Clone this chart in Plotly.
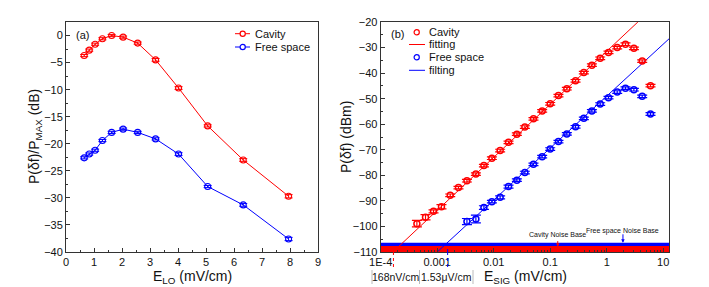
import math
import plotly.graph_objects as go

W, H = 709, 287
FONT = "Liberation Sans, Arial, sans-serif"
RED = "#ff0000"
BLUE = "#0000ff"
AX = "#333333"


def px(x):
    return x / W


def py(y):
    return 1 - y / H


# ---------------- Panel (a) data ----------------
e_lo = [0.65, 0.83, 1.04, 1.30, 1.63, 2.04, 2.56, 3.20, 4.02, 5.06, 6.33, 7.95]
cavity_rel = [-3.7, -2.7, -1.6, -0.6, 0.0, -0.3, -1.4, -4.5, -9.7, -16.7, -23.0, -29.7]
cavity_rel_err = [0.2, 0.2, 0.2, 0.2, 0.2, 0.2, 0.2, 0.25, 0.25, 0.2, 0.25, 0.3]
free_rel = [-22.6, -21.9, -21.2, -19.4, -17.9, -17.3, -17.9, -19.1, -21.9, -27.9, -31.3, -37.6]
free_rel_err = [0.2, 0.2, 0.2, 0.2, 0.2, 0.2, 0.2, 0.2, 0.25, 0.2, 0.25, 0.3]

# ---------------- Panel (b) data ----------------
e_sig_cavity = [4.37e-4, 6.21e-4, 8.61e-4, 1.19e-3, 1.70e-3, 2.38e-3, 3.36e-3, 4.84e-3,
                6.71e-3, 9.29e-3, 0.0130, 0.0183, 0.0257, 0.0356, 0.0506, 0.0721, 0.100,
                0.140, 0.197, 0.281, 0.394, 0.547, 0.767, 1.076, 1.535, 2.15, 3.03, 4.25, 5.96]
p_cavity = [-98.9, -96.4, -94.1, -92.3, -87.8, -84.8, -82.1, -79.5, -76.2, -73.3, -70.3,
            -67.1, -63.9, -61.1, -57.9, -54.8, -52.0, -48.8, -46.1, -43.0, -39.8, -36.9,
            -34.2, -31.9, -30.0, -28.7, -30.3, -35.3, -44.9]
p_cavity_err = [1.25, 1.0, 0.6, 0.8, 0.5, 0.5, 0.5, 0.5, 0.5, 0.5, 0.5, 0.5, 0.5, 0.5, 0.5,
                0.5, 0.5, 0.5, 0.5, 0.5, 0.5, 0.5, 0.5, 0.5, 0.5, 0.5, 0.5, 0.5, 0.5]
e_sig_free = [3.36e-3, 4.84e-3, 6.71e-3, 9.29e-3, 0.0130, 0.0183, 0.0257, 0.0356, 0.0506,
              0.0721, 0.100, 0.140, 0.197, 0.281, 0.394, 0.547, 0.767, 1.076, 1.535, 2.15,
              3.03, 4.25, 5.96]
p_free = [-98.1, -97.1, -92.6, -90.3, -88.6, -84.4, -81.9, -78.9, -75.7, -72.7, -69.7, -66.8,
          -63.8, -61.0, -57.7, -54.8, -52.1, -49.6, -47.4, -45.9, -46.5, -49.1, -56.0]
p_free_err = [1.2, 1.5, 0.7, 0.5, 0.6, 0.6, 0.5, 0.5, 0.5, 0.5, 0.5, 0.5, 0.5, 0.5, 0.5, 0.5,
              0.5, 0.5, 0.5, 0.5, 0.5, 0.5, 0.5]

fit_cavity_x = [1.64e-4, 3.56]
fit_cavity_y = [-110, -20]
fit_free_x = [1.0e-3, 12.8]
fit_free_y = [-110, -26.5]

noise_x = [1.0e-4, 13.0]
noise_floor = -110.0
noise_cavity = -107.7
noise_free = -106.4

mdf_cavity = 1.68e-4   # 168 nV/cm
mdf_free = 1.53e-3     # 1.53 uV/cm
arrow_cavity_x = 0.136
arrow_free_x = 1.94

xticks_b = [1e-4, 1e-3, 1e-2, 1e-1, 1, 10]
xticktext_b = ["1E-4", "0.001", "0.01", "0.1", "1", "10"]

fig = go.Figure()

# ---- panel (a) traces ----
for y, err, col in [(cavity_rel, cavity_rel_err, RED), (free_rel, free_rel_err, BLUE)]:
    fig.add_trace(go.Scatter(
        x=e_lo, y=y, mode="lines+markers", xaxis="x", yaxis="y",
        line=dict(color=col, width=1),
        marker=dict(symbol="circle-open", size=6, color=col, line=dict(width=1.1)),
        error_y=dict(type="data", array=err, color=col, thickness=1, width=4),
        showlegend=False,
    ))

# ---- panel (b) noise bands ----
fig.add_trace(go.Scatter(x=noise_x, y=[noise_floor] * 2, mode="lines", xaxis="x2", yaxis="y2",
                         line=dict(width=0, color=RED), showlegend=False, hoverinfo="skip"))
fig.add_trace(go.Scatter(x=noise_x, y=[noise_cavity] * 2, mode="lines", xaxis="x2", yaxis="y2",
                         line=dict(width=0, color=RED), fill="tonexty", fillcolor=RED,
                         showlegend=False, hoverinfo="skip"))
fig.add_trace(go.Scatter(x=noise_x, y=[noise_free] * 2, mode="lines", xaxis="x2", yaxis="y2",
                         line=dict(width=0, color=BLUE), fill="tonexty", fillcolor=BLUE,
                         showlegend=False, hoverinfo="skip"))

# ---- fits ----
fig.add_trace(go.Scatter(x=fit_cavity_x, y=fit_cavity_y, mode="lines", xaxis="x2", yaxis="y2",
                         line=dict(color=RED, width=1), showlegend=False))
fig.add_trace(go.Scatter(x=fit_free_x, y=fit_free_y, mode="lines", xaxis="x2", yaxis="y2",
                         line=dict(color=BLUE, width=1), showlegend=False))

# ---- data ----
for x, y, err, col in [(e_sig_cavity, p_cavity, p_cavity_err, RED),
                       (e_sig_free, p_free, p_free_err, BLUE)]:
    fig.add_trace(go.Scatter(
        x=x, y=y, mode="markers", xaxis="x2", yaxis="y2",
        marker=dict(symbol="circle-open", size=6, color=col, line=dict(width=1.5)),
        error_y=dict(type="data", array=err, color=col, thickness=1.2, width=5),
        showlegend=False,
    ))

axis_common = dict(showline=True, mirror=True, linecolor=AX, linewidth=1, ticks="inside",
                   ticklen=4, tickcolor=AX, showgrid=False, zeroline=False,
                   tickfont=dict(family=FONT, size=11, color="#111"))

fig.update_layout(
    width=W, height=H, margin=dict(l=0, r=0, t=0, b=0, autoexpand=False),
    autosize=False, showlegend=False,
    paper_bgcolor="white", plot_bgcolor="white",
    font=dict(family=FONT, color="#111"),
    xaxis=dict(domain=[px(66), px(318)], anchor="y", range=[0, 9], dtick=1,
               minor=dict(ticks="inside", ticklen=2, dtick=0.5, tickcolor=AX), **axis_common),
    yaxis=dict(domain=[py(252), py(22)], anchor="x", range=[-40, 2.5], dtick=5,
               minor=dict(ticks="inside", ticklen=2, dtick=2.5, tickcolor=AX), **axis_common),
    xaxis2=dict(domain=[px(380.7), px(669.3)], anchor="y2", type="log", range=[-4.0, 1.108],
                tickvals=xticks_b, ticktext=xticktext_b,
                minor=dict(ticks="inside", ticklen=2, dtick="D1", tickcolor=AX), **axis_common),
    yaxis2=dict(domain=[py(252), py(22)], anchor="x2", range=[-110, -20], dtick=10,
                minor=dict(ticks="inside", ticklen=2, dtick=5, tickcolor=AX), **axis_common),
)

shapes = []
ann = []


def note(text, x, y, size, xref="paper", yref="paper", xanchor="center", angle=0):
    ann.append(dict(text=text, x=x, y=y, xref=xref, yref=yref, showarrow=False,
                    xanchor=xanchor, yanchor="middle", textangle=angle,
                    font=dict(size=size, family=FONT, color="#111")))


# dotted minimum-detectable-field markers
shapes.append(dict(type="line", xref="x2", yref="y2", x0=mdf_free, x1=mdf_free,
                   y0=noise_floor, y1=noise_free, line=dict(color=BLUE, width=1, dash="dot")))
for xv, col in [(mdf_cavity, RED), (mdf_free, BLUE)]:
    shapes.append(dict(type="line", xref="x2", yref="y2 domain", x0=xv, x1=xv,
                       y0=0, y1=-0.07, line=dict(color=col, width=1, dash="dot")))
# gray separators for the threshold labels
for xs in [372, 419.5, 473]:
    shapes.append(dict(type="line", xref="paper", yref="paper", x0=px(xs), x1=px(xs),
                       y0=py(270), y1=py(284), line=dict(color="#bbbbbb", width=1)))

note("168nV/cm", px(395.7), py(276.5), 10.5)
note("1.53μV/cm", px(446.3), py(276.5), 10.5)

# noise base labels and arrows
note("Cavity Noise Base", math.log10(arrow_cavity_x), -103.3, 7, xref="x2", yref="y2")
note("Free space Noise Base", math.log10(arrow_free_x), -101.6, 7, xref="x2", yref="y2")
ann.append(dict(text="", xref="x2", yref="y2", x=math.log10(arrow_cavity_x), y=noise_cavity - 0.2,
                showarrow=True, ax=0, ay=-7, arrowhead=2, arrowsize=0.7, arrowwidth=1,
                arrowcolor=RED))
ann.append(dict(text="", xref="x2", yref="y2", x=math.log10(arrow_free_x), y=noise_free,
                showarrow=True, ax=0, ay=-10, arrowhead=2, arrowsize=0.7, arrowwidth=1,
                arrowcolor=BLUE))

# panel labels
note("(a)", px(82.5), py(35), 11)
note("(b)", px(397), py(34), 11)

# axis titles
note("P(δf)/P<sub>MAX</sub> (dB)", px(35), py(137), 14, angle=-90)
note("E<sub>LO</sub> (mV/cm)", px(192), py(277), 14)
note("P(δf) (dBm)", px(346), py(137), 14, angle=-90)
note("E<sub>SIG</sub> (mV/cm)", px(525), py(277), 14)


# manual legends
def legend_entry(xl0, xl1, xc, xt, yy, col, text, line=True, marker=True):
    if line:
        shapes.append(dict(type="line", xref="paper", yref="paper", x0=px(xl0), x1=px(xl1),
                           y0=py(yy), y1=py(yy), line=dict(color=col, width=1)))
    if marker:
        r = 2.6
        shapes.append(dict(type="circle", xref="paper", yref="paper",
                           x0=px(xc - r), x1=px(xc + r), y0=py(yy + r), y1=py(yy - r),
                           line=dict(color=col, width=1.2), fillcolor="white"))
    note(text, px(xt), py(yy), 11, xanchor="left")


legend_entry(235, 250, 242.7, 253, 33.7, RED, "Cavity")
legend_entry(235, 250, 242.7, 253, 47, BLUE, "Free space")
legend_entry(409, 425, 416.7, 427, 32.3, RED, "Cavity", line=False)
legend_entry(409, 425, 416.7, 427, 44.5, RED, "fitting", marker=False)
legend_entry(409, 425, 416.7, 427, 57.3, BLUE, "Free space", line=False)
legend_entry(409, 425, 416.7, 427, 70.3, BLUE, "filting", marker=False)

fig.update_layout(shapes=shapes, annotations=ann)

fig.write_html(
    "out.html",
    config={"displayModeBar": False, "responsive": False},
    post_script="document.body.style.margin='0';document.body.style.overflow='hidden';",
)
